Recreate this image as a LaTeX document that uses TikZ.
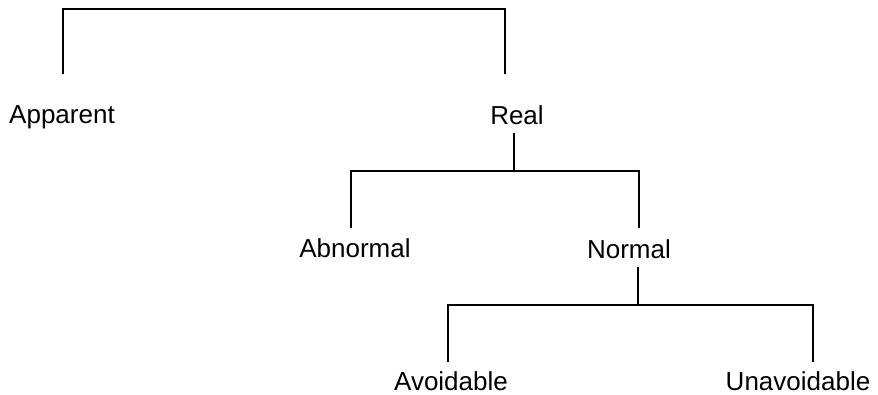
\documentclass[tikz,border=0pt]{standalone}
\usepackage{fontspec}
\setmainfont{Liberation Sans}
\begin{document}
\begin{tikzpicture}[x=1pt,y=-1pt,
  lbl/.style={anchor=base,inner sep=0pt,font=\fontsize{26}{30}\selectfont},
  branch/.style={line width=2pt,line join=miter}]
\useasboundingbox (0,0) rectangle (878,394);
% labels
\node[lbl] (apparent) at (62,123) {Apparent};
\node[lbl] (real) at (517,124) {Real};
\node[lbl] (abnormal) at (355,257) {Abnormal};
\node[lbl] (normal) at (629,258) {Normal};
\node[lbl] (avoidable) at (451,390) {Avoidable};
\node[lbl] (unavoidable) at (798,390) {Unavoidable};
% junction points
\coordinate (a1) at (63,74);
\coordinate (a2) at (505,74);
\coordinate (r1) at (514,133);
\coordinate (r2) at (514,171);
\coordinate (b1) at (351,228);
\coordinate (b2) at (639,228);
\coordinate (n1) at (638,267);
\coordinate (n2) at (638,305);
\coordinate (c1) at (448,362);
\coordinate (c2) at (813,362);
% connectors
\draw[branch] (a1) -- (63,9) -- (505,9) -- (a2);
\draw[branch] (r1) -- (r2);
\draw[branch] (b1) -- (351,171) -- (639,171) -- (b2);
\draw[branch] (n1) -- (n2);
\draw[branch] (c1) -- (448,305) -- (813,305) -- (c2);
\end{tikzpicture}
\end{document}
